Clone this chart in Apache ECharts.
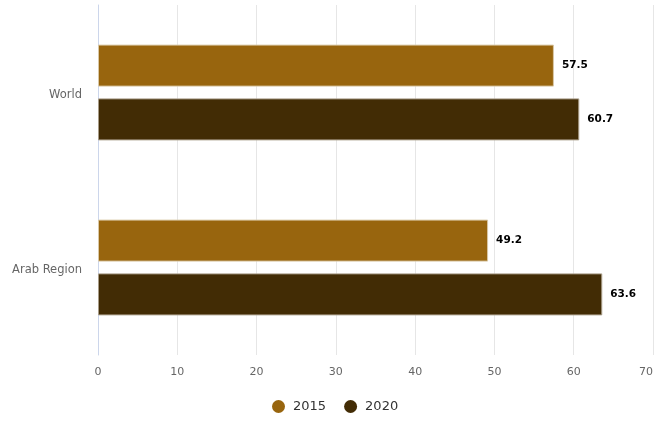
<!DOCTYPE html>
<html><head><meta charset="utf-8">
<script src="https://cdn.jsdelivr.net/npm/echarts@6/dist/echarts.min.js"></script>
<style>html,body{margin:0;padding:0;background:#fff}#c{width:655px;height:421px}</style>
</head><body><div id="c"></div>
<script>
const categories = ["World", "Arab Region"];
const seriesNames = ["2015", "2020"];
const values2015 = [57.5, 49.2];
const values2020 = [60.7, 63.6];
const xTicks = [0, 10, 20, 30, 40, 50, 60, 70];

const chart = echarts.init(document.getElementById('c'), null, {renderer: 'canvas'});
const font = "'DejaVu Sans', sans-serif";
const labelCfg = {show: true, position: 'right', distance: 8, color: '#000', fontWeight: 'bold', fontSize: 10.5, fontFamily: font};
chart.setOption({
  animation: false,
  grid: {left: 98, right: 2, top: 5, bottom: 66, containLabel: false, outerBoundsMode: 'none'},
  legend: {
    top: 395, left: 267, icon: 'circle', itemWidth: 13, itemHeight: 13, itemGap: 18,
    itemStyle: {borderWidth: 0},
    textStyle: {color: '#333', fontSize: 13, fontFamily: font, padding: [0, 0, 0, 3]},
    data: seriesNames
  },
  xAxis: {
    type: 'value', min: xTicks[0], max: xTicks[xTicks.length - 1], interval: 10,
    axisLine: {show: false}, axisTick: {show: false},
    splitLine: {lineStyle: {color: '#e6e6e6'}},
    axisLabel: {color: '#666', fontSize: 11, fontFamily: font, margin: 12, alignMaxLabel: 'right'}
  },
  yAxis: {
    type: 'category', data: categories, inverse: true,
    axisLine: {show: true, lineStyle: {color: '#ccd6eb'}},
    axisTick: {show: false},
    axisLabel: {color: '#666', fontSize: 11.5, fontFamily: font, margin: 16, verticalAlign: 'top', lineHeight: 6}
  },
  series: [
    {name: seriesNames[0], type: 'bar', data: values2015, barWidth: 42, barGap: '28%',
     itemStyle: {color: '#98650E', borderColor: '#d9c8a6', borderWidth: 1}, label: labelCfg},
    {name: seriesNames[1], type: 'bar', data: values2020, barWidth: 42,
     itemStyle: {color: '#422C05', borderColor: '#a89c88', borderWidth: 1}, label: labelCfg}
  ]
});
</script></body></html>
